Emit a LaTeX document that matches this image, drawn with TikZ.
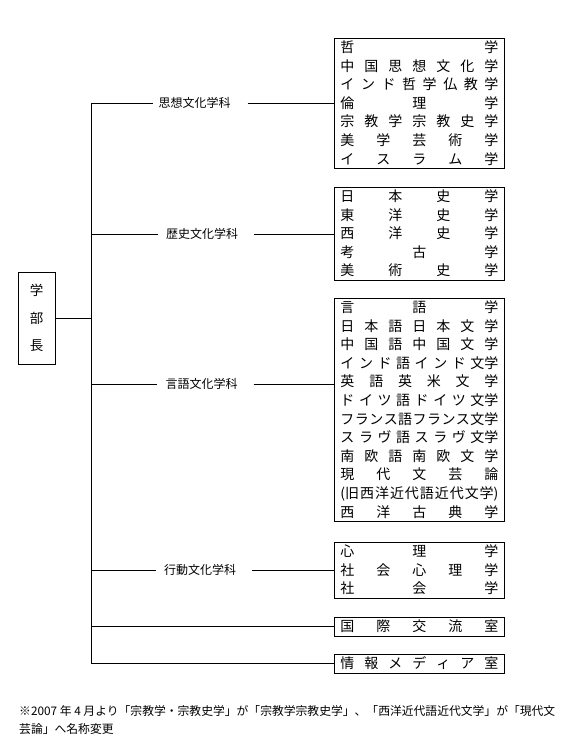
\documentclass[tikz,border=0pt]{standalone}
\usepackage{fontspec}
\setmainfont{Noto Sans CJK JP}
\newcommand\rw[1]{\hbox to 158pt{\rule[-4.6pt]{0pt}{18.6pt}#1}}
\tikzset{
  ln/.style={line width=0.9pt},
  listbox/.style={draw, line width=0.9pt, anchor=north west, inner xsep=6pt, inner ysep=0pt,
    align=left, font=\fontsize{14}{18.6}\selectfont},
  headbox/.style={draw, line width=0.9pt, minimum width=37pt, minimum height=92pt, inner sep=0pt,
    align=center, font=\fontsize{13.5}{27.5}\selectfont},
  dept/.style={inner xsep=0pt, font=\fontsize{12}{14}\selectfont},
  notetext/.style={anchor=north west, inner sep=0pt, align=left, font=\fontsize{11.8}{18}\selectfont},
}
\begin{document}
\begin{tikzpicture}[x=1pt,y=-1pt]
\useasboundingbox (0,0) rectangle (579,738);

% right boxes
\node[listbox] (b1) at (334,38) {%
\rw{哲\hfill 学}\\
\rw{中\hfill 国\hfill 思\hfill 想\hfill 文\hfill 化\hfill 学}\\
\rw{イ\hfill ン\hfill ド\hfill 哲\hfill 学\hfill 仏\hfill 教\hfill 学}\\
\rw{倫\hfill 理\hfill 学}\\
\rw{宗\hfill 教\hfill 学\hfill 宗\hfill 教\hfill 史\hfill 学}\\
\rw{美\hfill 学\hfill 芸\hfill 術\hfill 学}\\
\rw{イ\hfill ス\hfill ラ\hfill ム\hfill 学}};

\node[listbox] (b2) at (334,187) {%
\rw{日\hfill 本\hfill 史\hfill 学}\\
\rw{東\hfill 洋\hfill 史\hfill 学}\\
\rw{西\hfill 洋\hfill 史\hfill 学}\\
\rw{考\hfill 古\hfill 学}\\
\rw{美\hfill 術\hfill 史\hfill 学}};

\node[listbox] (b3) at (334,298) {%
\rw{言\hfill 語\hfill 学}\\
\rw{日\hfill 本\hfill 語\hfill 日\hfill 本\hfill 文\hfill 学}\\
\rw{中\hfill 国\hfill 語\hfill 中\hfill 国\hfill 文\hfill 学}\\
\rw{イ\hfill ン\hfill ド\hfill 語\hfill イ\hfill ン\hfill ド\hfill 文学}\\
\rw{英\hfill 語\hfill 英\hfill 米\hfill 文\hfill 学}\\
\rw{ド\hfill イ\hfill ツ\hfill 語\hfill ド\hfill イ\hfill ツ\hfill 文学}\\
\rw{フ\hfill ラ\hfill ン\hfill ス\hfill 語\hfill フ\hfill ラ\hfill ン\hfill ス\hfill 文学}\\
\rw{ス\hfill ラ\hfill ヴ\hfill 語\hfill ス\hfill ラ\hfill ヴ\hfill 文学}\\
\rw{南\hfill 欧\hfill 語\hfill 南\hfill 欧\hfill 文\hfill 学}\\
\rw{現\hfill 代\hfill 文\hfill 芸\hfill 論}\\
\rw{(旧\hfill 西\hfill 洋\hfill 近\hfill 代\hfill 語\hfill 近\hfill 代\hfill 文\hfill 学)}\\
\rw{西\hfill 洋\hfill 古\hfill 典\hfill 学}};

\node[listbox] (b4) at (334,542) {%
\rw{心\hfill 理\hfill 学}\\
\rw{社\hfill 会\hfill 心\hfill 理\hfill 学}\\
\rw{社\hfill 会\hfill 学}};

\node[listbox] (b5) at (334,617) {\rw{国\hfill 際\hfill 交\hfill 流\hfill 室}};
\node[listbox] (b6) at (334,654) {\rw{情\hfill 報\hfill メ\hfill デ\hfill ィ\hfill ア\hfill 室}};

% head
\node[headbox] (dean) at (36.5,318) {学\\部\\長};

% department labels
\node[dept] (d1) at (194.5,103) {思想文化学科};
\node[dept] (d2) at (202,234) {歴史文化学科};
\node[dept] (d3) at (201.5,384) {言語文化学科};
\node[dept] (d4) at (200,570) {行動文化学科};

% trunk
\coordinate (top) at (91,103);
\draw[ln] (top) -- (top |- b6.west);
\draw[ln] (dean.east) -- (top |- dean.east);

% branches
\draw[ln, shorten >=5pt] (top) -- (d1.west);
\draw[ln, shorten <=17pt] (d1.east) -- (b1.west |- d1);
\draw[ln, shorten >=8pt] (top |- d2) -- (d2.west);
\draw[ln, shorten <=16pt] (d2.east) -- (b2.west |- d2);
\draw[ln, shorten >=8pt] (top |- d3) -- (d3.west);
\draw[ln, shorten <=16pt] (d3.east) -- (b3.west |- d3);
\draw[ln, shorten >=8pt] (top |- d4) -- (d4.west);
\draw[ln, shorten <=16pt] (d4.east) -- (b4.west |- d4);
\draw[ln] (top |- b5.west) -- (b5.west);
\draw[ln] (top |- b6.west) -- (b6.west);

% footnote
\node[notetext] (note) at (19,705) {※2007 年 4 月より「宗教学・宗教史学」が「宗教学宗教史学」、「西洋近代語近代文学」が「現代文\\芸論」へ名称変更};
\end{tikzpicture}
\end{document}
